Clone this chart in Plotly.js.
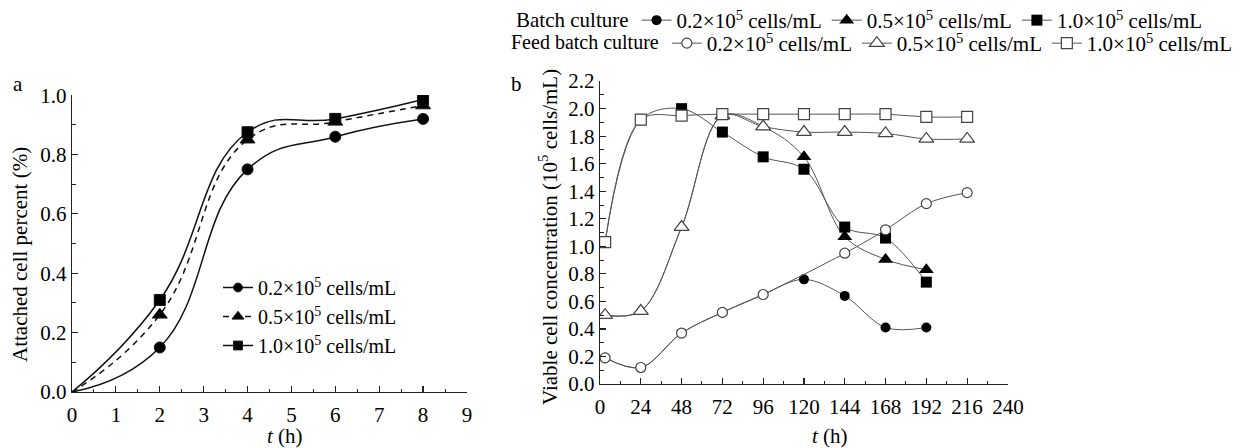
<!DOCTYPE html>
<html><head><meta charset="utf-8">
<script src="https://cdn.plot.ly/plotly-3.0.1.min.js"></script>
<style>html,body{margin:0;padding:0;background:#fff}#chart{width:1240px;height:448px}</style>
</head><body><div id="chart"></div>
<script>
// Panel a: attached cell percent vs time
const seedTimes = [0, 2, 4, 6, 8];
const seed02 = [0, 0.15, 0.75, 0.86, 0.92];
const seed05 = [0, 0.26, 0.85, 0.91, 0.965];
const seed10 = [0, 0.31, 0.875, 0.92, 0.985];
const densityLabels = ['0.2×10<sup>5</sup> cells/mL', '0.5×10<sup>5</sup> cells/mL', '1.0×10<sup>5</sup> cells/mL'];

// Panel b: viable cell concentration vs time
const batchTimes = [3, 24, 48, 72, 96, 120, 144, 168, 192];
const batch02 = [0.19, 0.12, 0.37, 0.52, 0.65, 0.76, 0.64, 0.41, 0.41];
const batch05 = [0.50, 0.53, 1.14, 1.95, 1.87, 1.65, 1.07, 0.905, 0.83];
const batch10 = [1.03, 1.92, 2.00, 1.83, 1.65, 1.56, 1.14, 1.06, 0.74];
const feedTimes02 = [3, 24, 48, 72, 96, 144, 168, 192, 216];
const feed02 = [0.19, 0.12, 0.37, 0.52, 0.65, 0.95, 1.12, 1.31, 1.39];
const feedTimes = [3, 24, 48, 72, 96, 120, 144, 168, 192, 216];
const feed05 = [0.50, 0.53, 1.14, 1.95, 1.87, 1.83, 1.83, 1.82, 1.78, 1.78];
const feed10 = [1.03, 1.92, 1.95, 1.96, 1.96, 1.96, 1.96, 1.96, 1.94, 1.94];

const FONT = "'Liberation Serif', 'Times New Roman', serif";
const W = 1240, H = 448;
const px = v => v / W, py = v => 1 - v / H;

const traces = [
  {x: seedTimes, y: seed02, xaxis: 'x', yaxis: 'y', mode: 'lines+markers', name: densityLabels[0], legend: 'legend3',
   line: {shape: 'spline', smoothing: 1.3, color: '#111', width: 1.5}, marker: {symbol: 'circle', size: [0, 11, 11, 11, 11], color: '#000', opacity: 1}},
  {x: seedTimes, y: seed05, xaxis: 'x', yaxis: 'y', mode: 'lines+markers', name: densityLabels[1], legend: 'legend3',
   line: {shape: 'spline', smoothing: 1.3, color: '#111', width: 1.5, dash: '6px,5px'}, marker: {symbol: 'triangle-up', size: [0, 13, 13, 13, 13], color: '#000', opacity: 1}},
  {x: seedTimes, y: seed10, xaxis: 'x', yaxis: 'y', mode: 'lines+markers', name: densityLabels[2], legend: 'legend3',
   line: {shape: 'spline', smoothing: 1.3, color: '#111', width: 1.5}, marker: {symbol: 'square', size: [0, 11, 11, 11, 11], color: '#000', opacity: 1}},

  {x: batchTimes, y: batch02, xaxis: 'x2', yaxis: 'y2', mode: 'lines+markers', name: densityLabels[0], legend: 'legend',
   line: {shape: 'spline', smoothing: 1, color: '#555', width: 1}, marker: {symbol: 'circle', size: 10, color: '#000'}},
  {x: batchTimes, y: batch05, xaxis: 'x2', yaxis: 'y2', mode: 'lines+markers', name: densityLabels[1], legend: 'legend',
   line: {shape: 'spline', smoothing: 1, color: '#555', width: 1}, marker: {symbol: 'triangle-up', size: 13, color: '#000'}},
  {x: batchTimes, y: batch10, xaxis: 'x2', yaxis: 'y2', mode: 'lines+markers', name: densityLabels[2], legend: 'legend',
   line: {shape: 'spline', smoothing: 1, color: '#555', width: 1}, marker: {symbol: 'square', size: 11, color: '#000'}},

  {x: feedTimes02, y: feed02, xaxis: 'x2', yaxis: 'y2', mode: 'lines+markers', name: densityLabels[0], legend: 'legend2',
   line: {shape: 'spline', smoothing: 1, color: '#555', width: 1}, marker: {symbol: 'circle', size: 10, color: '#fff', line: {color: '#444', width: 1.2}}},
  {x: feedTimes, y: feed05, xaxis: 'x2', yaxis: 'y2', mode: 'lines+markers', name: densityLabels[1], legend: 'legend2',
   line: {shape: 'spline', smoothing: 1, color: '#555', width: 1}, marker: {symbol: 'triangle-up', size: 13, color: '#fff', line: {color: '#444', width: 1.2}}},
  {x: feedTimes, y: feed10, xaxis: 'x2', yaxis: 'y2', mode: 'lines+markers', name: densityLabels[2], legend: 'legend2',
   line: {shape: 'spline', smoothing: 1, color: '#555', width: 1}, marker: {symbol: 'square', size: 11, color: '#fff', line: {color: '#444', width: 1.2}}}
];

function axis(extra) {
  return Object.assign({
    showline: true, linecolor: '#222', linewidth: 1.3, mirror: false,
    ticks: 'inside', ticklen: 6, tickwidth: 1.2, tickcolor: '#222',
    showgrid: false, zeroline: false, fixedrange: true, automargin: false,
    tickfont: {family: FONT, size: 21, color: '#000'}
  }, extra);
}
const minor = d => ({dtick: d, ticks: 'inside', ticklen: 3.5, tickwidth: 1, tickcolor: '#222', showgrid: false});

const legendBase = {
  font: {family: FONT, size: 21, color: '#000'}, bgcolor: 'rgba(0,0,0,0)', borderwidth: 0,
  xref: 'paper', yref: 'paper', xanchor: 'left', yanchor: 'top', itemwidth: 30, traceorder: 'normal',
  itemclick: false, itemdoubleclick: false
};

function note(text, x, y, extra) {
  return Object.assign({text: text, x: px(x), y: py(y), xref: 'paper', yref: 'paper', showarrow: false,
    xanchor: 'center', yanchor: 'middle', font: {family: FONT, size: 21, color: '#000'}}, extra || {});
}

const layout = {
  width: W, height: H, margin: {l: 0, r: 0, t: 0, b: 0, autoexpand: false},
  paper_bgcolor: '#fff', plot_bgcolor: 'rgba(0,0,0,0)',
  font: {family: FONT, size: 21, color: '#000'},
  showlegend: true,
  xaxis: axis({domain: [px(72), px(467)], anchor: 'y', range: [0, 9.001], tick0: 0, dtick: 1, minor: minor(0.5), ticklabelstandoff: 3}),
  yaxis: axis({domain: [py(392), py(95)], anchor: 'x', range: [0, 1.0005], tick0: 0, dtick: 0.2, tickformat: '.1f', minor: minor(0.1)}),
  xaxis2: axis({domain: [px(600), px(1008)], anchor: 'y2', range: [0, 240.05], tick0: 0, dtick: 24, minor: minor(12), ticklabelstandoff: 3}),
  yaxis2: axis({domain: [py(384), py(81)], anchor: 'x2', range: [0, 2.201], tick0: 0, dtick: 0.2, tickformat: '.1f', minor: minor(0.1)}),
  legend: Object.assign({}, legendBase, {x: px(514), y: 1, orientation: 'h', title: {text: 'Batch culture', side: 'left', font: {family: FONT, size: 21}}}),
  legend2: Object.assign({}, legendBase, {x: px(509), y: 1 - 23 / H, orientation: 'h', entrywidth: 145, entrywidthmode: 'pixels',
    title: {text: 'Feed batch culture', side: 'left', font: {family: FONT, size: 20}}}),
  legend3: Object.assign({}, legendBase, {x: px(218), y: 1 - 268 / H, orientation: 'v', font: {family: FONT, size: 20, color: '#000'}}),
  annotations: [
    note('a', 18, 84),
    note('b', 516, 84),
    note('<i>t</i> (h)', 285, 436),
    note('<i>t</i> (h)', 830, 436),
    note('Attached cell percent (%)', 20, 255, {textangle: -90}),
    note('Viable cell concentration (10<sup>5</sup> cells/mL)', 549, 237, {textangle: -90})
  ]
};

Plotly.newPlot('chart', traces, layout, {staticPlot: true, displayModeBar: false});
</script>
</body></html>
